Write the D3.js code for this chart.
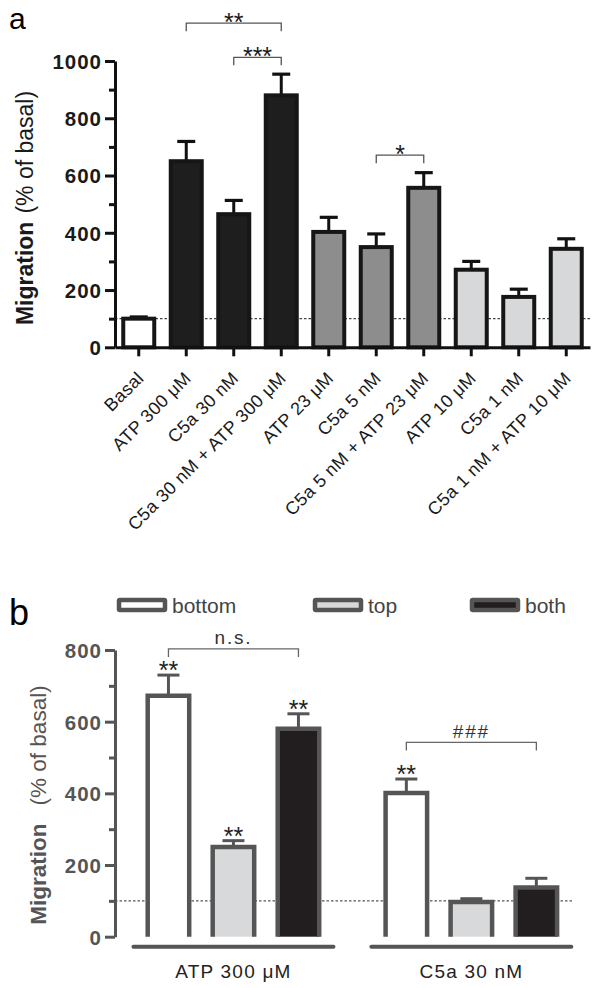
<!DOCTYPE html>
<html><head><meta charset="utf-8">
<script src="https://cdn.jsdelivr.net/npm/d3@7"></script>
<style>body{margin:0;background:#fff} svg{display:block} text{font-family:"Liberation Sans",Arial,Helvetica,sans-serif}</style>
</head><body><svg id="c" width="602" height="988"></svg>
<script>
// ---------- Panel a data ----------
const categoriesA = ["Basal","ATP 300 μM","C5a 30 nM","C5a 30 nM + ATP 300 μM","ATP 23 μM","C5a 5 nM","C5a 5 nM + ATP 23 μM","ATP 10 μM","C5a 1 nM","C5a 1 nM + ATP 10 μM"];
const meansA   = [100, 650, 465, 880, 403, 350, 557, 271, 176, 344];
const errTopsA = [106, 719, 513, 954, 454, 396, 610, 300, 203, 379];
const shadeA   = [0, 1, 1, 1, 2, 2, 2, 3, 3, 3];
const ticksA   = [0, 200, 400, 600, 800, 1000];
const minorTicksA = [100, 300, 500, 700, 900];
const sigA = [
  {from: 1, to: 3, level: 1132, label: "**"},
  {from: 2, to: 3, level: 1013, label: "***"},
  {from: 5, to: 6, level: 671,  label: "*"}
];
// ---------- Panel b data ----------
const groupsB = ["ATP 300 μM", "C5a 30 nM"];
const seriesB = ["bottom", "top", "both"];
const bottomB = [672, 401];
const topB    = [250, 97];
const bothB   = [580, 137];
const bottomErrB = [730, 440];
const topErrB    = [268, 106];
const bothErrB   = [622, 163];
const ticksB = [0, 200, 400, 600, 800];
const minorTicksB = [100, 300, 500, 700];
const starsB = [["**","**","**"],["**","",""]];
const sigB = [
  {group: 0, from: 0, to: 2, level: 803, label: "n.s."},
  {group: 1, from: 0, to: 2, level: 542, label: "###"}
];

const svg = d3.select("#c");
const FONT = '"Liberation Sans",Arial,Helvetica,sans-serif';

// ================= PANEL A =================
const fillsA = ["#ffffff", "#1e1e1e", "#8d8d8d", "#d7d8d9"];
const xA = d3.scaleBand().domain(categoriesA).range([115, 590]).padding(0);
const yA = d3.scaleLinear().domain([0, 1000]).range([347.3, 61]);
const gA = svg.append("g");

svg.append("text").attr("x", 9).attr("y", 28.5).attr("font-size", 30).text("a");

// dotted reference line at 100%
gA.append("line").attr("x1", 115).attr("x2", 590).attr("y1", yA(100)).attr("y2", yA(100))
  .attr("stroke", "#444").attr("stroke-width", 1.2).attr("stroke-dasharray", "2.5,2");

const bwA = 31;
const barsA = gA.selectAll("g.bar").data(categoriesA).join("g");
barsA.append("line")
  .attr("x1", d => xA(d) + xA.bandwidth()/2).attr("x2", d => xA(d) + xA.bandwidth()/2)
  .attr("y1", (d,i) => yA(meansA[i])).attr("y2", (d,i) => yA(errTopsA[i]))
  .attr("stroke", "#111").attr("stroke-width", 3);
barsA.append("line")
  .attr("x1", d => xA(d) + xA.bandwidth()/2 - 9).attr("x2", d => xA(d) + xA.bandwidth()/2 + 9)
  .attr("y1", (d,i) => yA(errTopsA[i])).attr("y2", (d,i) => yA(errTopsA[i]))
  .attr("stroke", "#111").attr("stroke-width", 3.2);
barsA.append("rect")
  .attr("x", d => xA(d) + xA.bandwidth()/2 - bwA/2).attr("width", bwA)
  .attr("y", (d,i) => yA(meansA[i])).attr("height", (d,i) => yA(0) - yA(meansA[i]))
  .attr("fill", (d,i) => fillsA[shadeA[i]]).attr("stroke", "#161616").attr("stroke-width", 4);

// y axis
const axA = gA.append("g").attr("transform", "translate(115,0)")
  .call(d3.axisLeft(yA).tickValues(ticksA).tickFormat(d3.format("d")).tickSize(10).tickSizeOuter(0));
axA.select(".domain").attr("stroke", "#111").attr("stroke-width", 3);
axA.selectAll(".tick line").attr("stroke", "#111").attr("stroke-width", 3);
axA.selectAll(".tick text").attr("font-size", 20.5).attr("font-weight", "bold").attr("fill", "#1a1a1a")
  .attr("font-family", FONT).attr("letter-spacing", 1).attr("dy", "0.36em").attr("x", -13);
const axAm = gA.append("g").attr("transform", "translate(115,0)")
  .call(d3.axisLeft(yA).tickValues(minorTicksA).tickSize(6).tickFormat(""));
axAm.select(".domain").remove();
axAm.selectAll(".tick line").attr("stroke", "#111").attr("stroke-width", 3);

// x axis
const axAx = gA.append("g").attr("transform", `translate(0,${yA(0)})`)
  .call(d3.axisBottom(xA).tickSize(9).tickSizeOuter(0).tickFormat(""));
axAx.select(".domain").attr("stroke", "#111").attr("stroke-width", 3);
axAx.selectAll(".tick line").attr("stroke", "#111").attr("stroke-width", 3);
gA.selectAll("text.xl").data(categoriesA).join("text").attr("class", "xl")
  .attr("transform", d => `translate(${xA(d) + xA.bandwidth()/2 + 6},${yA(0) + 32}) rotate(-45)`)
  .attr("text-anchor", "end").attr("font-size", 18).attr("letter-spacing", 0.4)
  .attr("fill", "#1a1a1a").text(d => d);

// y title
svg.append("text").attr("transform", `translate(33,208) rotate(-90)`).attr("text-anchor", "middle")
  .attr("font-size", 23).attr("fill", "#1a1a1a")
  .call(t => { t.append("tspan").attr("font-weight", "bold").text("Migration");
               t.append("tspan").attr("dx", 8).text("(% of basal)"); });

// significance brackets
sigA.forEach(s => {
  const x1 = xA(categoriesA[s.from]) + xA.bandwidth()/2, x2 = xA(categoriesA[s.to]) + xA.bandwidth()/2, y = yA(s.level);
  gA.append("path").attr("d", `M${x1},${y+8}V${y}H${x2}V${y+8}`).attr("fill", "none")
    .attr("stroke", "#555").attr("stroke-width", 1.3);
  gA.append("text").attr("x", (x1+x2)/2).attr("y", y + 8).attr("text-anchor", "middle")
    .attr("font-size", 25).attr("fill", "#1a1a1a").text(s.label);
});

// ================= PANEL B =================
const fillsB = ["#ffffff", "#d8d9da", "#221e1f"];
const strokeB = "#555555";
const xG = d3.scaleBand().domain(groupsB).range([114.5, 590.3]).padding(0);
const xS = d3.scaleBand().domain(seriesB).range([-97.5, 97.5]).padding(0);
const yB = d3.scaleLinear().domain([0, 800]).range([936.7, 650]);
const gB = svg.append("g");
const valsB = [bottomB, topB, bothB];
const errsB = [bottomErrB, topErrB, bothErrB];
const cx = (gi, si) => xG(groupsB[gi]) + xG.bandwidth()/2 + xS(seriesB[si]) + xS.bandwidth()/2;

svg.append("text").attr("x", 9).attr("y", 625).attr("font-size", 36).text("b");

// legend
const legX = [119, 315, 472];
seriesB.forEach((s, i) => {
  svg.append("rect").attr("x", legX[i]).attr("y", 600).attr("width", 46).attr("height", 10).attr("rx", 1)
    .attr("fill", fillsB[i]).attr("stroke", strokeB).attr("stroke-width", 4.5);
  svg.append("text").attr("x", legX[i] + 53).attr("y", 612.5).attr("font-size", 21).attr("fill", "#444").text(s);
});

gB.append("line").attr("x1", 115).attr("x2", 573).attr("y1", yB(100)).attr("y2", yB(100))
  .attr("stroke", "#555").attr("stroke-width", 1.2).attr("stroke-dasharray", "2.5,2");

const bwB = 41.5;
groupsB.forEach((g, gi) => {
  seriesB.forEach((s, si) => {
    const c = cx(gi, si), v = valsB[si][gi], e = errsB[si][gi];
    gB.append("line").attr("x1", c).attr("x2", c).attr("y1", yB(v)).attr("y2", yB(e))
      .attr("stroke", strokeB).attr("stroke-width", 3);
    gB.append("line").attr("x1", c - 11).attr("x2", c + 11).attr("y1", yB(e)).attr("y2", yB(e))
      .attr("stroke", strokeB).attr("stroke-width", 3);
    gB.append("rect").attr("x", c - bwB/2).attr("width", bwB).attr("y", yB(v)).attr("height", yB(0) - yB(v))
      .attr("fill", fillsB[si]);
    gB.append("path").attr("d", `M${c - bwB/2},${yB(0)}V${yB(v)}H${c + bwB/2}V${yB(0)}`)
      .attr("fill", "none").attr("stroke", strokeB).attr("stroke-width", 4.5);
    if (starsB[gi][si]) gB.append("text").attr("x", c).attr("y", yB(e) + 4).attr("text-anchor", "middle")
      .attr("font-size", 25).attr("fill", "#222").text(starsB[gi][si]);
  });
  // group baseline
  const x1 = cx(gi, 0) - 35, x2 = cx(gi, 2) + 35;
  gB.append("line").attr("x1", x1).attr("x2", x2).attr("y1", 946.7).attr("y2", 946.7)
    .attr("stroke", strokeB).attr("stroke-width", 4).attr("stroke-linecap", "round");
  gB.append("text").attr("x", (x1 + x2)/2).attr("y", 978).attr("text-anchor", "middle")
    .attr("font-size", 19).attr("letter-spacing", 1.2).attr("fill", "#222").text(g);
});

sigB.forEach(s => {
  const x1 = cx(s.group, s.from), x2 = cx(s.group, s.to), y = yB(s.level);
  gB.append("path").attr("d", `M${x1},${y+8}V${y}H${x2}V${y+8}`).attr("fill", "none")
    .attr("stroke", "#666").attr("stroke-width", 1.3);
  gB.append("text").attr("x", (x1+x2)/2).attr("y", y - 4.5).attr("text-anchor", "middle")
    .attr("font-size", 19).attr("letter-spacing", 1.8).attr("fill", "#333").text(s.label);
});

const axB = gB.append("g").attr("transform", "translate(115,0)")
  .call(d3.axisLeft(yB).tickValues(ticksB).tickFormat(d3.format("d")).tickSize(10).tickSizeOuter(0));
axB.select(".domain").attr("stroke", strokeB).attr("stroke-width", 3);
axB.selectAll(".tick line").attr("stroke", strokeB).attr("stroke-width", 3);
axB.selectAll(".tick text").attr("font-size", 20.5).attr("font-weight", "bold").attr("fill", "#555")
  .attr("font-family", FONT).attr("letter-spacing", 1).attr("dy", "0.36em").attr("x", -13);
const axBm = gB.append("g").attr("transform", "translate(115,0)")
  .call(d3.axisLeft(yB).tickValues(minorTicksB).tickSize(6).tickFormat(""));
axBm.select(".domain").remove();
axBm.selectAll(".tick line").attr("stroke", strokeB).attr("stroke-width", 3);

svg.append("text").attr("transform", `translate(46,805) rotate(-90)`).attr("text-anchor", "middle")
  .attr("font-size", 22.5).attr("fill", "#555")
  .call(t => { t.append("tspan").attr("font-weight", "bold").text("Migration");
               t.append("tspan").attr("dx", 18).text("(% of basal)"); });
</script></body></html>
